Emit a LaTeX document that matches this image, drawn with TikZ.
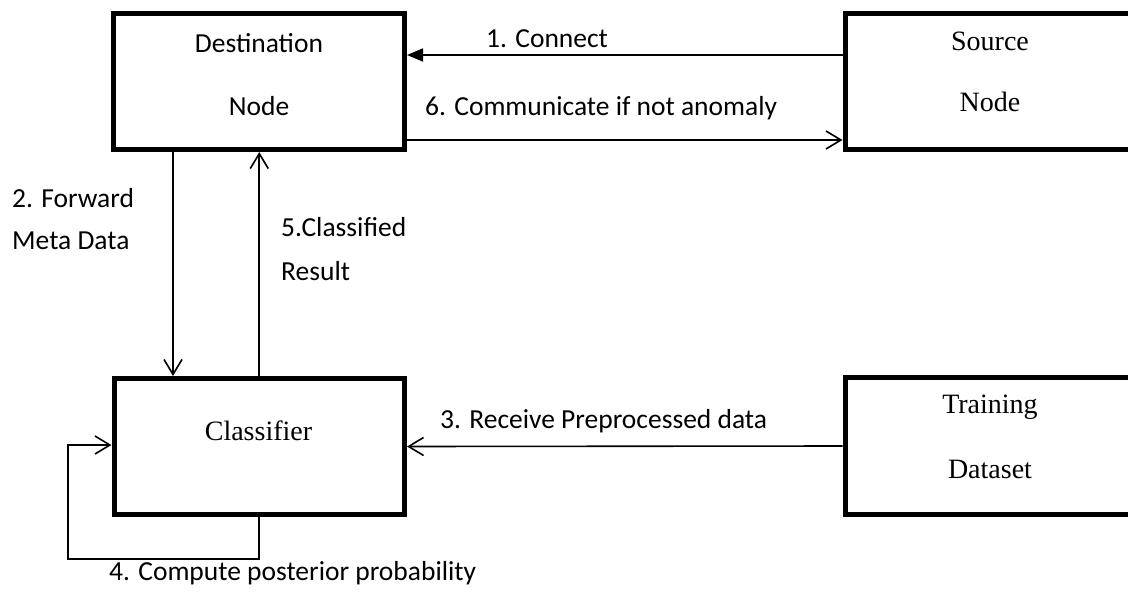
\documentclass[tikz,border=0pt]{standalone}
\usepackage{fontspec}
\setmainfont{Liberation Serif}
\newfontfamily\lblfont{Carlito}
\usetikzlibrary{arrows.meta}
\tikzset{
  box/.style={draw, line width=5pt, inner sep=0pt, fill=none},
  conn/.style={line width=1.6pt},
  openhead/.style={-{Straight Barb[length=15pt,width=18pt]}},
  solidhead/.style={-{Triangle[length=16pt,width=13pt]}},
  sanstext/.style={inner sep=0pt, font=\lblfont\fontsize{27.5}{30}\selectfont},
  seriftext/.style={inner sep=0pt, font=\fontsize{28}{31}\selectfont},
}
\begin{document}
\begin{tikzpicture}[x=1pt,y=-1pt]
\useasboundingbox (0,0) rectangle (1128,592);
\clip (0,0) rectangle (1128,592);

% boxes
\node[box, minimum width=291pt, minimum height=136pt] (dst) at (259,81.5) {};
\node[box, minimum width=300pt, minimum height=136pt] (src) at (995,81.5) {};
\node[box, minimum width=290.5pt, minimum height=136pt] (cls) at (259.25,446.5) {};
\node[box, minimum width=300pt, minimum height=137pt] (trn) at (995,446) {};

% box captions
\node[sanstext, anchor=base] (dstA) at (259,52) {Destination};
\node[sanstext, anchor=base] (dstB) at (259,115) {Node};
\node[seriftext, anchor=base] (srcA) at (990,50) {Source};
\node[seriftext, anchor=base] (srcB) at (990,111) {Node};
\node[seriftext, anchor=base] (clsA) at (258.5,440) {Classifier};
\node[seriftext, anchor=base] (trnA) at (990,413) {Training};
\node[seriftext, anchor=base] (trnB) at (990,478) {Dataset};

% connectors
\draw[conn, solidhead] ([yshift=26.5pt]src.west) -- ([yshift=26.5pt]dst.east);
\draw[conn, openhead] ([yshift=-58.5pt]dst.east) -- ([yshift=-58.5pt]src.west);
\draw[conn, openhead] ([xshift=-86pt]dst.south) -- ([xshift=-86.25pt]cls.north);
\draw[conn, openhead] (cls.north) -- (cls.north |- dst.south);
\draw[conn, openhead] (trn.west) -- (cls.east);
\coordinate (loopcorner) at (68,559);
\draw[conn, openhead] (cls.south) |- (loopcorner) |- ([yshift=1.5pt]cls.west);

% connector labels
\node[sanstext, anchor=base west] (l1) at (486,47) {1. Connect};
\node[sanstext, anchor=base west] (l6) at (425,115) {6. Communicate if not anomaly};
\node[sanstext, anchor=base west] (l2a) at (12,207) {2. Forward};
\node[sanstext, anchor=base west] (l2b) at (12,249) {Meta Data};
\node[sanstext, anchor=base west] (l5a) at (281,236) {5.Classified};
\node[sanstext, anchor=base west] (l5b) at (281,280) {Result};
\node[sanstext, anchor=base west] (l3) at (440,428) {3. Receive Preprocessed data};
\node[sanstext, anchor=base west] (l4) at (109,580) {4. Compute posterior probability};
\end{tikzpicture}
\end{document}
